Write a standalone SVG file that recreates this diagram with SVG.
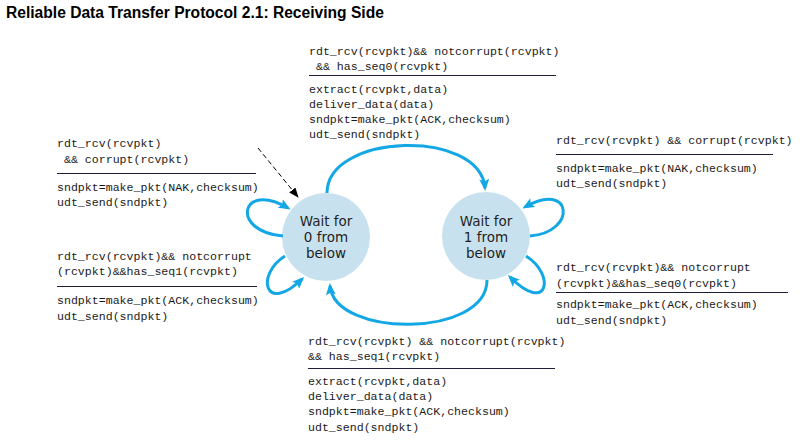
<svg xmlns="http://www.w3.org/2000/svg" width="803" height="447" viewBox="0 0 803 447">
<style>
.title{font-family:"Liberation Sans",Arial,sans-serif;font-weight:bold;font-size:15.6px;fill:#000}
.st{fill:#c8e1ef}
.stt{font-family:"DejaVu Sans","Liberation Sans",sans-serif;font-size:13.5px;fill:#231f20;text-anchor:middle}
.arc{fill:none;stroke:#14a7e6;stroke-width:3}
.dash{fill:none;stroke:#000;stroke-width:1;stroke-dasharray:5,3}
.lbl{font-family:"Liberation Mono","Courier New",monospace;font-size:11.6px;fill:#1a1a1a}
.sep{stroke:#1e1e3c;stroke-width:1}
</style>
<defs>
<marker id="ab" markerUnits="userSpaceOnUse" viewBox="0 0 12 10" markerWidth="12" markerHeight="10" refX="9" refY="5" orient="auto">
<path d="M0,0 L12,5 L0,10 L2.5,5 z" fill="#14a7e6"/>
</marker>
<marker id="ak" markerUnits="userSpaceOnUse" viewBox="0 0 10 8" markerWidth="10" markerHeight="8" refX="9" refY="4" orient="auto">
<path d="M0,0 L10,4 L0,8 z" fill="#000"/>
</marker>
</defs>
<text class="title" x="6" y="18">Reliable Data Transfer Protocol 2.1: Receiving Side</text>
<g id="wait0">
<circle class="st" cx="326" cy="237" r="44"/>
<text class="stt" x="326" y="226">Wait for</text>
<text class="stt" x="326" y="242">0 from</text>
<text class="stt" x="326" y="258">below</text>
</g>
<g id="wait1">
<circle class="st" cx="486" cy="236" r="44"/>
<text class="stt" x="486" y="226">Wait for</text>
<text class="stt" x="486" y="242">1 from</text>
<text class="stt" x="486" y="258">below</text>
</g>
<g id="connectors">
<path class="dash" d="M258,148 L298,197" marker-end="url(#ak)"/>
<path class="arc" d="M327,193 C327,133 480,128 485,188" marker-end="url(#ab)"/>
<path class="arc" d="M487,280 C487,338 335,338 330,286" marker-end="url(#ab)"/>
<path class="arc" d="M283,236 C230,232 240,180 288,208" marker-end="url(#ab)"/>
<path class="arc" d="M285,256 C255,275 265,315 302,279" marker-end="url(#ab)"/>
<path class="arc" d="M530,236 C578,232 572,180 525,207" marker-end="url(#ab)"/>
<path class="arc" d="M526,256 C556,275 548,315 510,277" marker-end="url(#ab)"/>
</g>
<g id="label-top">
<text class="lbl" x="309" y="55">rdt_rcv(rcvpkt)&amp;&amp; notcorrupt(rcvpkt)</text>
<text class="lbl" x="309" y="70" xml:space="preserve"> &amp;&amp; has_seq0(rcvpkt)</text>
<line class="sep" x1="309" y1="75.5" x2="556" y2="75.5"/>
<text class="lbl" x="309" y="93">extract(rcvpkt,data)</text>
<text class="lbl" x="309" y="108">deliver_data(data)</text>
<text class="lbl" x="309" y="123">sndpkt=make_pkt(ACK,checksum)</text>
<text class="lbl" x="309" y="138">udt_send(sndpkt)</text>
</g>
<g id="label-left-top">
<text class="lbl" x="57" y="147">rdt_rcv(rcvpkt)</text>
<text class="lbl" x="57" y="163" xml:space="preserve"> &amp;&amp; corrupt(rcvpkt)</text>
<line class="sep" x1="57" y1="173.5" x2="256" y2="173.5"/>
<text class="lbl" x="57" y="191">sndpkt=make_pkt(NAK,checksum)</text>
<text class="lbl" x="57" y="206">udt_send(sndpkt)</text>
</g>
<g id="label-right-top">
<text class="lbl" x="556" y="144">rdt_rcv(rcvpkt) &amp;&amp; corrupt(rcvpkt)</text>
<line class="sep" x1="556" y1="154.5" x2="773" y2="154.5"/>
<text class="lbl" x="556" y="172">sndpkt=make_pkt(NAK,checksum)</text>
<text class="lbl" x="556" y="187">udt_send(sndpkt)</text>
</g>
<g id="label-left-bottom">
<text class="lbl" x="57" y="260">rdt_rcv(rcvpkt)&amp;&amp; notcorrupt</text>
<text class="lbl" x="57" y="275">(rcvpkt)&amp;&amp;has_seq1(rcvpkt)</text>
<line class="sep" x1="57" y1="286.5" x2="257" y2="286.5"/>
<text class="lbl" x="57" y="304">sndpkt=make_pkt(ACK,checksum)</text>
<text class="lbl" x="57" y="320">udt_send(sndpkt)</text>
</g>
<g id="label-right-bottom">
<text class="lbl" x="556" y="271">rdt_rcv(rcvpkt)&amp;&amp; notcorrupt</text>
<text class="lbl" x="556" y="287">(rcvpkt)&amp;&amp;has_seq0(rcvpkt)</text>
<line class="sep" x1="556" y1="292.5" x2="788" y2="292.5"/>
<text class="lbl" x="556" y="308">sndpkt=make_pkt(ACK,checksum)</text>
<text class="lbl" x="556" y="324">udt_send(sndpkt)</text>
</g>
<g id="label-bottom">
<text class="lbl" x="308" y="345">rdt_rcv(rcvpkt) &amp;&amp; notcorrupt(rcvpkt)</text>
<text class="lbl" x="308" y="360">&amp;&amp; has_seq1(rcvpkt)</text>
<line class="sep" x1="308" y1="368.5" x2="555" y2="368.5"/>
<text class="lbl" x="308" y="385">extract(rcvpkt,data)</text>
<text class="lbl" x="308" y="400">deliver_data(data)</text>
<text class="lbl" x="308" y="415">sndpkt=make_pkt(ACK,checksum)</text>
<text class="lbl" x="308" y="431">udt_send(sndpkt)</text>
</g>
</svg>
